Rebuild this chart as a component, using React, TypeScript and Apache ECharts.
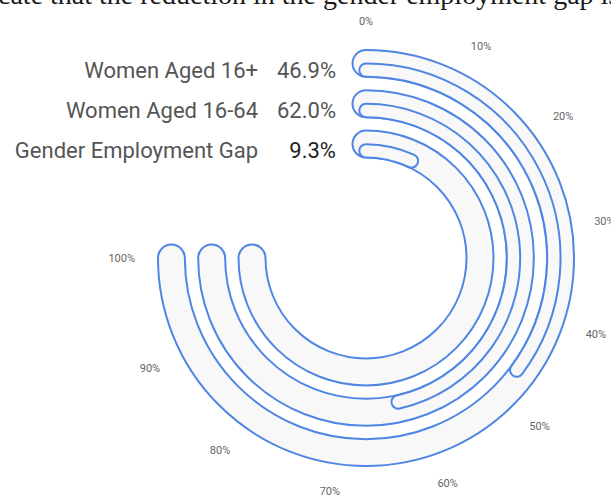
import React, { useEffect, useRef } from "react";
import * as echarts from "echarts";

// inner ring -> outer ring
const categories = ["Gender Employment Gap", "Women Aged 16-64", "Women Aged 16+"];
const values = [9.3, 62.0, 46.9];
const trackMax = 100;
const angleTicks = [0, 10, 20, 30, 40, 50, 60, 70, 80, 90, 100];
const headline = "cate that the reduction in the gender employment gap is";

const BLUE = "#4f86e3";
const TRACK = "#f8f8f8";

export default function App() {
  const ref = useRef<HTMLDivElement>(null);
  useEffect(() => {
    if (!ref.current) return;
    const chart = echarts.init(ref.current, null, { renderer: "svg" });
    chart.setOption({
      animation: false,
      backgroundColor: "#ffffff",
      polar: { center: [366, 258], radius: [87, 208] },
      angleAxis: {
        type: "value",
        min: angleTicks[0],
        max: angleTicks[angleTicks.length - 1],
        interval: 10,
        startAngle: 90,
        endAngle: -180,
        clockwise: true,
        axisLine: { show: false },
        axisTick: { show: false },
        splitLine: { show: false },
        axisLabel: {
          show: true,
          margin: 23,
          formatter: "{value}%",
          color: "#666666",
          fontSize: 11,
          fontFamily: "Roboto",
        },
      },
      radiusAxis: {
        type: "category",
        data: categories,
        axisLine: { show: false },
        axisTick: { show: false },
        splitLine: { show: false },
        z: 10,
        axisLabel: {
          margin: 30,
          interval: 0,
          formatter: (v: string, i: number) => {
            const key = i === 0 ? "vd" : "v";
            return `{n|${v}}{${key}|${values[i].toFixed(1)}%}`;
          },
          rich: {
            n: { fontSize: 22, fontFamily: "Roboto", color: "#555" },
            v: { fontSize: 22, fontFamily: "Roboto", color: "#555", width: 78, align: "right" },
            vd: { fontSize: 22, fontFamily: "Roboto", color: "#222", width: 78, align: "right" },
          },
        },
      },
      series: [
        {
          type: "bar",
          coordinateSystem: "polar",
          data: categories.map(() => trackMax),
          barWidth: 27,
          barGap: "-100%",
          roundCap: true,
          silent: true,
          itemStyle: { color: TRACK, borderColor: BLUE, borderWidth: 2 },
        },
        {
          type: "bar",
          coordinateSystem: "polar",
          data: values,
          barWidth: 27,
          barGap: "-100%",
          roundCap: true,
          itemStyle: { color: TRACK, borderColor: BLUE, borderWidth: 2 },
        },
      ],
      graphic: [
        {
          type: "text",
          x: -2,
          y: -6,
          style: {
            text: headline,
            font: '28px "Liberation Serif"',
            fill: "#1a1a1a",
            verticalAlign: "middle",
          },
        },
      ],
    });
    return () => chart.dispose();
  }, []);
  return (
    <div
      ref={ref}
      style={{ position: "fixed", left: 0, top: 0, width: 611, height: 500 }}
    />
  );
}
